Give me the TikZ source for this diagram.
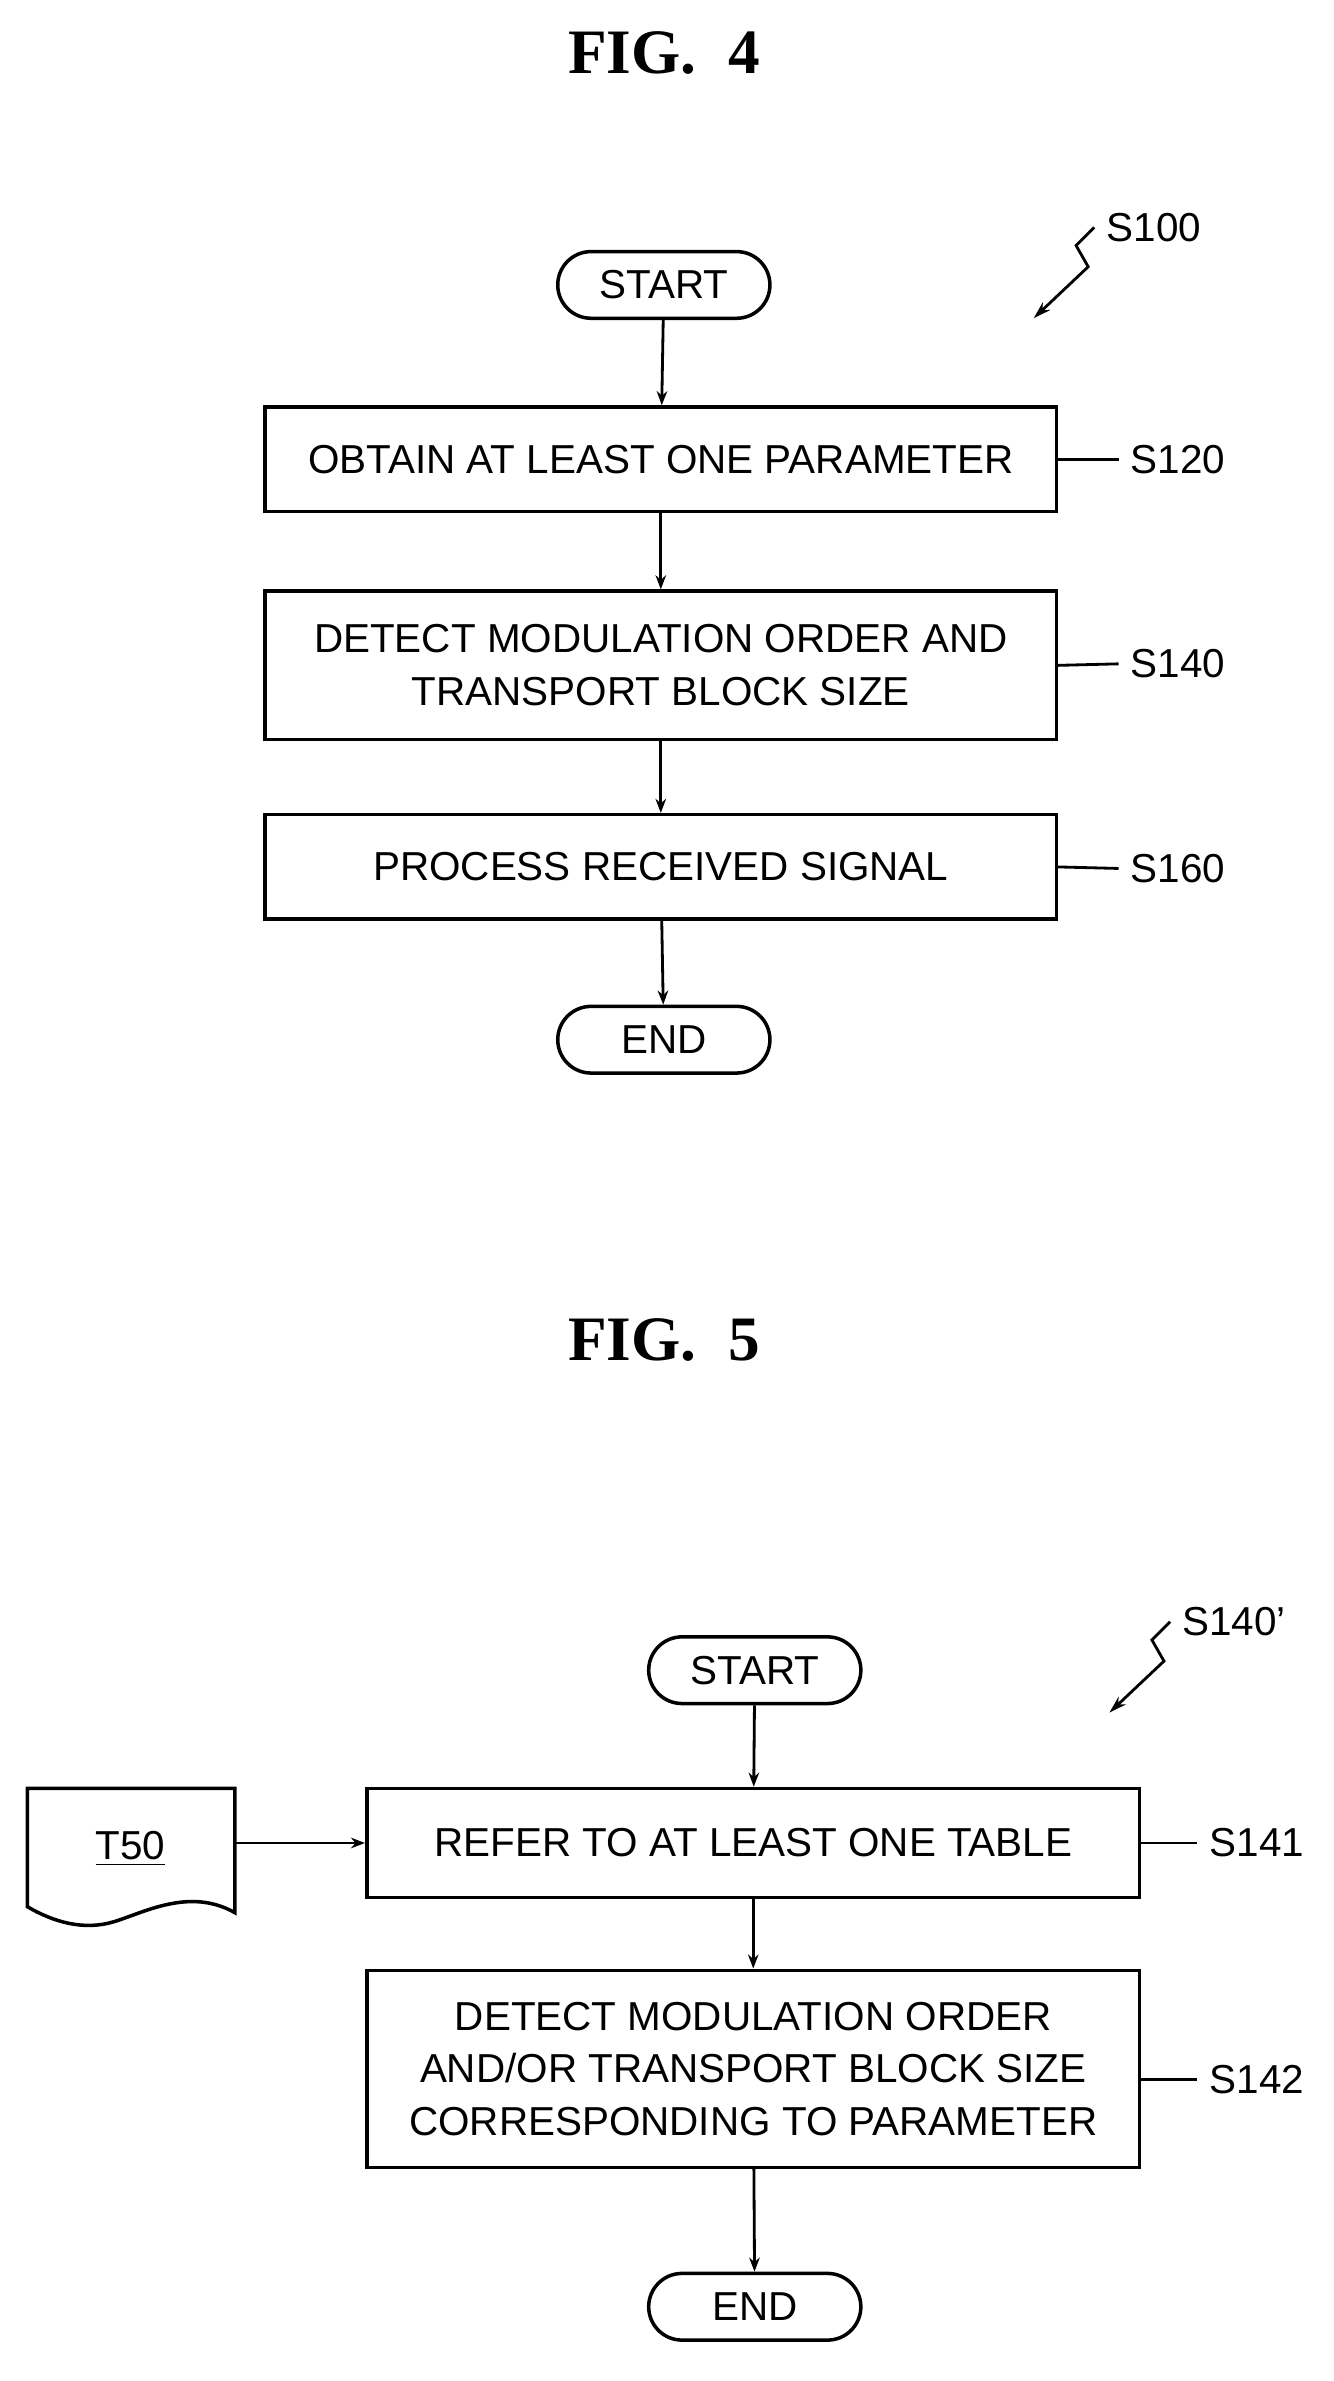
\documentclass[tikz,border=0pt]{standalone}
\usepackage{fontspec}
\setmainfont{Liberation Sans}
\newfontfamily\figfont{Liberation Serif}
\usetikzlibrary{positioning,arrows.meta}

\begin{document}
\begin{tikzpicture}[x=0.01515cm,y=-0.01515cm,
  box/.style={draw,line width=1pt,minimum width=522*0.01515cm,align=center,font=\fontsize{11.5}{15}\selectfont},
  term/.style={draw,line width=1pt,rounded corners=22*0.01515cm,minimum width=140*0.01515cm,minimum height=44*0.01515cm,font=\fontsize{11.5}{14}\selectfont},
  flow/.style={line width=0.8pt,-{Stealth[length=4pt,width=3pt]}},
  lbl/.style={font=\fontsize{11.5}{14}\selectfont,anchor=west},
  fig/.style={font=\figfont\bfseries\fontsize{18}{22}\selectfont}]
\useasboundingbox (0,0) rectangle (880,1571);
% figure 4
\node[fig] (fig4) at (438,35) {FIG.\ \ 4};
\node[term] (start1) at (438,188) {START};
\node[box,minimum height=69*0.01515cm] (obtain) at (436,303) {OBTAIN AT LEAST ONE PARAMETER};
\node[box,minimum height=98*0.01515cm] (detect) at (436,439) {DETECT MODULATION ORDER AND\\TRANSPORT BLOCK SIZE};
\node[box,minimum height=69*0.01515cm] (process) at (436,572) {PROCESS RECEIVED SIGNAL};
\node[term] (end1) at (438,686) {END};
\draw[flow] (start1) -- (obtain);
\draw[flow] (obtain) -- (detect);
\draw[flow] (detect) -- (process);
\draw[flow] (process) -- (end1);
% step labels
\node[lbl] (s120) at (738,303) {S120};
\node[lbl] (s140) at (738,438) {S140};
\node[lbl] (s160) at (738,573) {S160};
\draw[line width=0.8pt] (obtain.east) -- (s120.west);
\draw[line width=0.8pt] (detect.east) -- (s140.west);
\draw[line width=0.8pt] (process.east) -- (s160.west);
\node[lbl] (s100) at (722,150) {S100};
\draw[line width=0.8pt,-{Stealth[length=5pt,width=3pt]}] (s100.west) -- ++(-12,12) -- ++(8,14) -- ++(-36,34);
% figure 5
\node[fig] (fig5) at (438,884) {FIG.\ \ 5};
\node[term] (start2) at (498,1102) {START};
\node[box,minimum width=510*0.01515cm,minimum height=72*0.01515cm] (refer) at (497,1216) {REFER TO AT LEAST ONE TABLE};
\node[box,minimum width=510*0.01515cm,minimum height=130*0.01515cm] (detect2) at (497,1365) {DETECT MODULATION ORDER\\AND/OR TRANSPORT BLOCK SIZE\\CORRESPONDING TO PARAMETER};
\node[term] (end2) at (498,1522) {END};
\draw[flow] (start2) -- (refer);
\draw[flow] (refer) -- (detect2);
\draw[flow] (detect2) -- (end2);
% table document
\draw[line width=1pt] (18,1180) -- (155,1180) -- (155,1262) .. controls (125,1245) and (95,1262) .. (75,1268) .. controls (55,1274) and (35,1268) .. (18,1258) -- cycle;
\node[font=\fontsize{11.5}{14}\selectfont] (t50) at (86,1220) {\underline{T50}};
\draw[flow] (155,1216) -- (refer.west);
\node[lbl] (s141) at (790,1216) {S141};
\node[lbl] (s142) at (790,1372) {S142};
\draw[line width=0.8pt] (refer.east) -- (s141.west);
\draw[line width=0.8pt] (detect2.east |- s142) -- (s142.west);
\node[lbl] (s140p) at (772,1070) {S140'};
\draw[line width=0.8pt,-{Stealth[length=5pt,width=3pt]}] (s140p.west) -- ++(-12,12) -- ++(8,14) -- ++(-36,34);
\end{tikzpicture}
\end{document}
